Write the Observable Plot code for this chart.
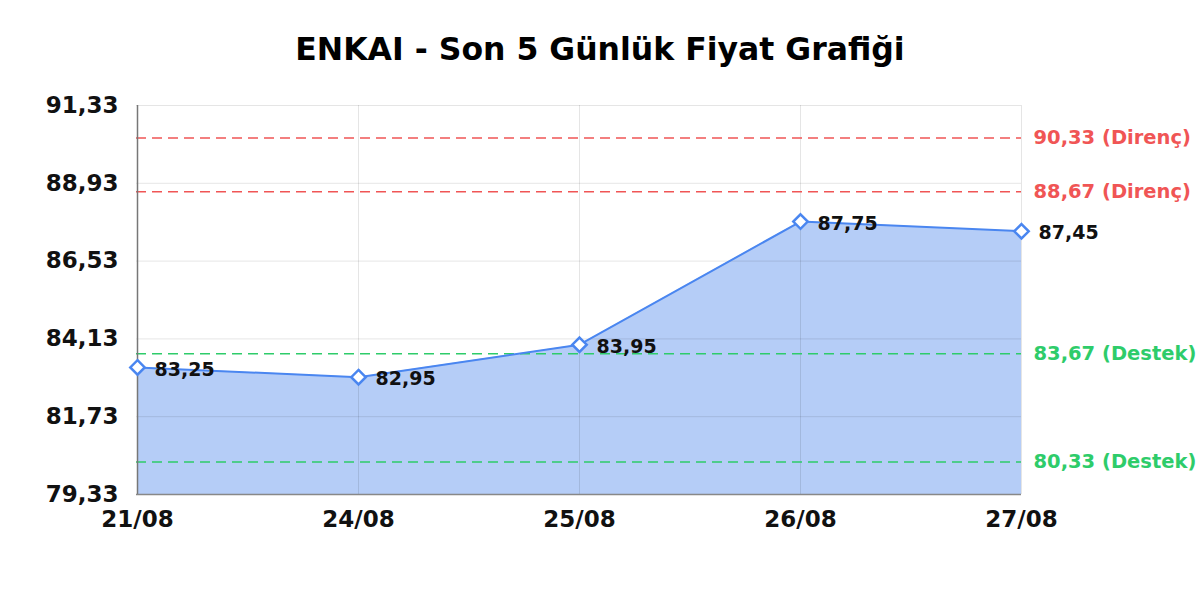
<!DOCTYPE html>
<html>
<head>
<meta charset="utf-8">
<script src="https://cdn.jsdelivr.net/npm/d3@7"></script>
<script src="https://cdn.jsdelivr.net/npm/@observablehq/plot@0.6"></script>
<style>
  html, body { margin: 0; padding: 0; background: #fff; }
  #title { height: 80px; width: 1200px; text-align: center; font-family: "DejaVu Sans", sans-serif; font-weight: bold; font-size: 31.5px; line-height: 98px; color: #000; overflow: hidden; }
  svg { display: block; }
</style>
</head>
<body>
<div id="title">ENKAI - Son 5 Günlük Fiyat Grafiği</div>
<div id="chart"></div>
<script>
const dates = ["21/08", "24/08", "25/08", "26/08", "27/08"];
const prices = [83.25, 82.95, 83.95, 87.75, 87.45];
const yTicks = [79.33, 81.73, 84.13, 86.53, 88.93, 91.33];
const resistance = [90.33, 88.67];
const support = [83.67, 80.33];

const yMin = yTicks[0], yMax = yTicks[yTicks.length - 1];
const fmt = v => v.toFixed(2).replace(".", ",");
const data = dates.map((d, i) => ({date: d, price: prices[i]}));
const levels = [
  ...resistance.map(v => ({v, label: fmt(v) + " (Direnç)", color: "#f05555"})),
  ...support.map(v => ({v, label: fmt(v) + " (Destek)", color: "#2ecc6a"}))
];
const blue = "#4a86f0";

const chart = Plot.plot({
  width: 1200,
  height: 520,
  marginTop: 25,
  marginBottom: 106,
  marginLeft: 136,
  marginRight: 179,
  style: {fontFamily: "DejaVu Sans, sans-serif", background: "#fff", overflow: "visible"},
  x: {type: "point", domain: dates, padding: 0, label: null},
  y: {domain: [yMin, yMax], label: null},
  marks: [
    Plot.areaY(data, {x: "date", y1: () => yMin, y2: "price", fill: "#b5cdf7", fillOpacity: 1}),
    Plot.gridY(yTicks, {stroke: "#000", strokeOpacity: 0.1}),
    Plot.gridX(dates, {stroke: "#000", strokeOpacity: 0.1}),
    Plot.ruleY(levels, {y: "v", stroke: "color", strokeWidth: 1.5, strokeDasharray: "10,6"}),
    Plot.lineY(data, {x: "date", y: "price", stroke: blue, strokeWidth: 2}),
    Plot.ruleX([dates[0]], {stroke: "#777", strokeWidth: 1.5}),
    Plot.ruleY([yMin], {stroke: "#888", strokeWidth: 1.5}),
    Plot.dot(data, {x: "date", y: "price", symbol: "diamond2", r: 6.5, fill: "#fff", stroke: blue, strokeWidth: 2.5}),
    Plot.text(data, {x: "date", y: "price", text: d => fmt(d.price), textAnchor: "start", dx: 17, dy: 2, fontSize: 19, fontWeight: "bold", fill: "#111"}),
    Plot.text(levels, {x: () => dates[dates.length - 1], y: "v", text: "label", fill: "color", textAnchor: "start", dx: 12, fontSize: 19.5, fontWeight: "bold"}),
    Plot.axisY({ticks: yTicks, tickFormat: fmt, tickSize: 0, tickPadding: 18, fontSize: 23, fontWeight: "bold", fill: "#111", label: null}),
    Plot.axisX({tickSize: 0, tickPadding: 16, fontSize: 23, fontWeight: "bold", fill: "#111", label: null})
  ]
});
document.getElementById("chart").appendChild(chart);
</script>
</body>
</html>
